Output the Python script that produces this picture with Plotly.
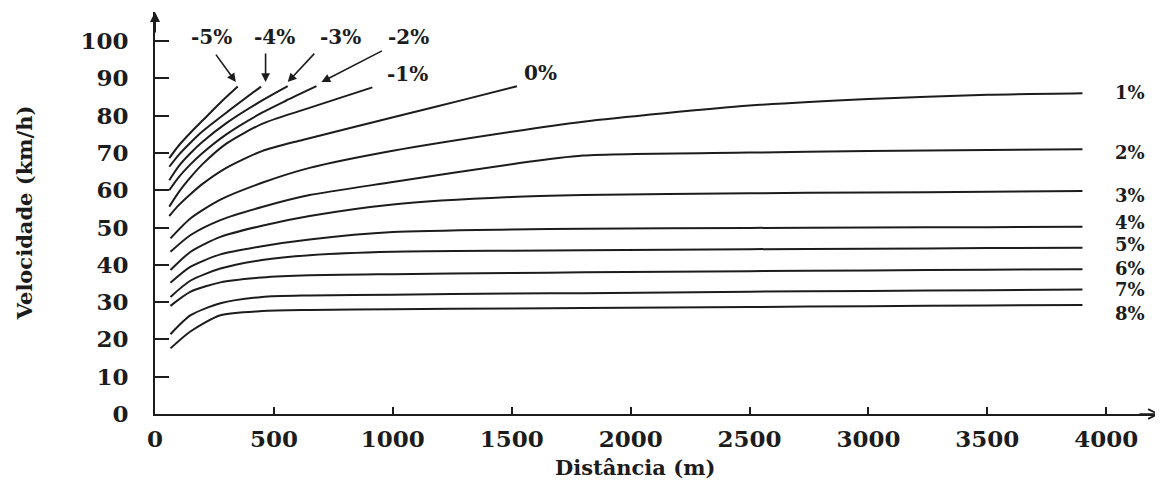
import plotly.graph_objects as go

# ---------------- data ----------------
# Distances (m) for the downgrade / level curves (each ends where its label arrow points)
dist_m5 = [60, 100, 150, 200, 280, 348]
speed_m5 = [68.6, 72.0, 75.5, 78.7, 83.8, 87.8]

dist_m4 = [60, 100, 150, 200, 300, 446]
speed_m4 = [66.3, 69.5, 72.8, 75.8, 80.8, 87.8]

dist_m3 = [60, 100, 150, 200, 300, 430, 558]
speed_m3 = [62.7, 66.5, 70.0, 73.0, 78.0, 83.3, 87.9]

dist_m2 = [60, 100, 150, 200, 300, 450, 550, 679]
speed_m2 = [60.0, 63.5, 67.0, 70.0, 75.0, 80.8, 84.0, 87.9]

dist_m1 = [60, 100, 150, 200, 300, 450, 620, 914]
speed_m1 = [55.6, 59.5, 63.5, 67.0, 72.5, 77.8, 81.5, 87.6]

dist_0 = [60, 100, 150, 200, 300, 450, 620, 1048, 1300, 1522]
speed_0 = [53.1, 56.0, 59.0, 61.7, 66.0, 70.5, 73.5, 80.3, 84.3, 87.9]

# Upgrade curves share one distance grid (m)
dist_up = [65, 150, 275, 450, 650, 1000, 1500, 1800, 2500, 3000, 3500, 3900]
speed_1 = [47.1, 52.5, 57.5, 62.0, 66.0, 70.6, 75.7, 78.4, 82.7, 84.5, 85.6, 86.0]
speed_2 = [43.5, 48.0, 52.0, 55.5, 58.7, 62.2, 67.0, 69.3, 70.1, 70.5, 70.8, 71.0]
speed_3 = [38.6, 43.5, 47.5, 50.5, 53.1, 56.2, 58.2, 58.7, 59.2, 59.4, 59.6, 59.8]
speed_4 = [35.2, 39.5, 42.8, 45.0, 46.8, 48.8, 49.5, 49.7, 49.9, 50.0, 50.1, 50.2]
speed_5 = [31.4, 35.8, 39.0, 41.3, 42.6, 43.5, 43.8, 43.9, 44.2, 44.3, 44.5, 44.6]
speed_6 = [29.0, 32.8, 35.3, 36.6, 37.2, 37.5, 37.8, 38.0, 38.3, 38.5, 38.7, 38.8]
speed_7 = [21.4, 26.5, 29.7, 31.4, 31.8, 32.0, 32.3, 32.4, 32.8, 33.0, 33.2, 33.4]
speed_8 = [17.6, 22.2, 26.5, 27.6, 27.9, 28.1, 28.3, 28.4, 28.7, 28.9, 29.1, 29.2]

x_ticks = [0, 500, 1000, 1500, 2000, 2500, 3000, 3500, 4000]
y_ticks = [0, 10, 20, 30, 40, 50, 60, 70, 80, 90, 100]

right_labels = ["1%", "2%", "3%", "4%", "5%", "6%", "7%", "8%"]
right_label_y = [86.1, 70.0, 58.7, 51.3, 45.5, 39.1, 33.4, 27.0]

top_labels = ["-5%", "-4%", "-3%", "-2%"]
top_label_x = [239, 503, 780, 1065]
arrow_head_x = [340, 465, 558, 700]
arrow_offsets = [(-21, -29), (0, -30), (28, -30), (62, -32)]

# ---------------- figure ----------------
INK = "#1c1c1c"
FONT = "DejaVu Serif"

fig = go.Figure()

curves = [
    (dist_m5, speed_m5), (dist_m4, speed_m4), (dist_m3, speed_m3),
    (dist_m2, speed_m2), (dist_m1, speed_m1), (dist_0, speed_0),
    (dist_up, speed_1), (dist_up, speed_2), (dist_up, speed_3),
    (dist_up, speed_4), (dist_up, speed_5), (dist_up, speed_6),
    (dist_up, speed_7), (dist_up, speed_8),
]
for d, v in curves:
    fig.add_trace(go.Scatter(
        x=d, y=v, mode="lines",
        line=dict(color=INK, width=2, shape="spline", smoothing=0.7),
        hoverinfo="skip", showlegend=False,
    ))

label_font = dict(family=FONT, size=20, color=INK, weight="bold")
side_font = dict(family=FONT, size=18, color=INK, weight="bold")
annotations = []

for t, y in zip(right_labels, right_label_y):
    annotations.append(dict(x=4100, y=y, xref="x", yref="y", text=t,
                            showarrow=False, font=side_font,
                            xanchor="center", yanchor="middle"))

for t, x in zip(top_labels, top_label_x):
    annotations.append(dict(x=x, y=101.1, xref="x", yref="y", text=t,
                            showarrow=False, font=label_font,
                            xanchor="center", yanchor="middle"))

annotations.append(dict(x=1061, y=91.2, xref="x", yref="y", text="-1%",
                        showarrow=False, font=label_font,
                        xanchor="center", yanchor="middle"))
annotations.append(dict(x=1623, y=91.4, xref="x", yref="y", text="0%",
                        showarrow=False, font=label_font,
                        xanchor="center", yanchor="middle"))

for hx, (ax, ay) in zip(arrow_head_x, arrow_offsets):
    annotations.append(dict(x=hx, y=89.0, xref="x", yref="y", text="",
                            showarrow=True, ax=ax, ay=ay,
                            arrowhead=2, arrowsize=1.1, arrowwidth=1.6,
                            arrowcolor=INK))

# axis arrows
annotations.append(dict(x=0, y=1, xref="paper", yref="paper", text="",
                        showarrow=True, ax=0, ay=22, arrowhead=2,
                        arrowsize=1, arrowwidth=2, arrowcolor=INK))
annotations.append(dict(x=1, y=0, xref="paper", yref="paper", text="",
                        showarrow=True, ax=-22, ay=0, arrowhead=5,
                        arrowsize=1.2, arrowwidth=1.6, arrowcolor=INK))

# axis titles
annotations.append(dict(x=-0.13, y=0.50, xref="paper", yref="paper",
                        text="Velocidade (km/h)", textangle=-90,
                        showarrow=False, xanchor="center", yanchor="middle",
                        font=dict(family=FONT, size=21, color=INK, weight="bold")))
annotations.append(dict(x=0.478, y=-0.132, xref="paper", yref="paper",
                        text="Distância (m)", showarrow=False,
                        xanchor="center", yanchor="middle",
                        font=dict(family=FONT, size=21, color=INK, weight="bold")))

tick_font = dict(family=FONT, size=23, color=INK, weight="bold")

# the page body adds an 8px margin, so the figure is 8px smaller
fig.update_layout(
    width=1155, height=472,
    margin=dict(l=147, r=3, t=4, b=66),
    paper_bgcolor="white", plot_bgcolor="white",
    showlegend=False,
    annotations=annotations,
    xaxis=dict(range=[0, 4226], tickvals=x_ticks, ticktext=[str(t) for t in x_ticks],
               showline=True, linecolor=INK, linewidth=2,
               ticks="inside", ticklen=7, tickwidth=1.5, tickcolor=INK,
               tickfont=tick_font, ticklabelstandoff=3,
               showgrid=False, zeroline=False),
    yaxis=dict(range=[0, 107.8], tickvals=y_ticks, ticktext=[str(t) for t in y_ticks],
               showline=True, linecolor=INK, linewidth=2,
               ticks="inside", ticklen=14, tickwidth=1.5, tickcolor=INK,
               tickfont=tick_font, ticklabelstandoff=20,
               showgrid=False, zeroline=False),
)

fig.write_html("out.html")
